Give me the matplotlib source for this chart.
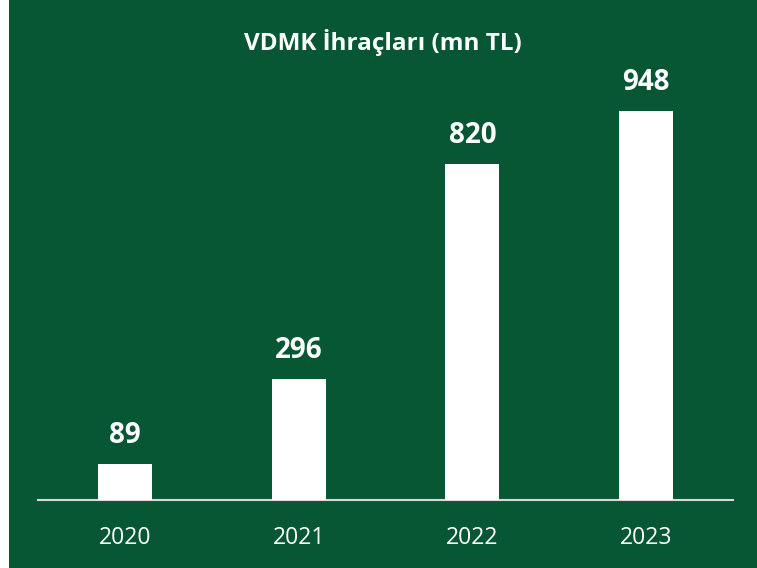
import matplotlib
matplotlib.use("Agg")
import matplotlib.pyplot as plt
from matplotlib.patches import Rectangle

years = ["2020", "2021", "2022", "2023"]
values = [89, 296, 820, 948]
title = "VDMK İhraçları (mn TL)"

GREEN = "#075734"
W, H = 757, 568
fig = plt.figure(figsize=(W / 100, H / 100), dpi=100)
fig.patch.set_facecolor("white")
fig.patches.append(Rectangle((9 / W, 0), 1 - 9 / W, 1, transform=fig.transFigure,
                             facecolor=GREEN, edgecolor="none", zorder=-10))
plt.rcParams['font.family'] = ['Open Sans', 'DejaVu Sans']

left, right = 38, 733
bottom_px, top_px = 500, 90
ax = fig.add_axes([left / W, 1 - bottom_px / H, (right - left) / W, (bottom_px - top_px) / H])
ax.set_facecolor("none")
x = range(len(years))
ax.bar(x, values, width=54 / 174, color="white", zorder=3)
ax.set_xlim(-0.5, len(years) - 0.5)
ax.set_ylim(0, 1000)
for xi, v in zip(x, values):
    ax.annotate(str(v), (xi, v), xytext=(0, 10), textcoords="offset points",
                ha="center", va="bottom", color="white", fontsize=20, fontweight="bold")
for s in ["top", "right", "left"]:
    ax.spines[s].set_visible(False)
ax.spines["bottom"].set_color("#D9D9D9")
ax.spines["bottom"].set_linewidth(1.5)
ax.set_yticks([])
ax.set_xticks(list(x))
ax.set_xticklabels(years, color="white", fontsize=16.5)
ax.tick_params(axis="x", length=0, pad=19)
fig.text((9 + W) / 2 / W, 1 - 42 / H, title, ha="center", va="center",
         color="white", fontsize=17.5, fontweight="bold")
fig.savefig("out.png", dpi=100, facecolor=fig.get_facecolor())
